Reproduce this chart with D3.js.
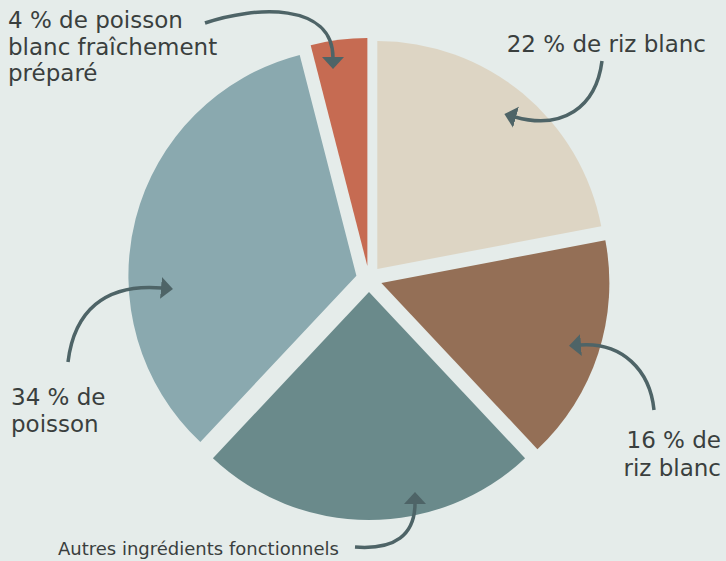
<!DOCTYPE html>
<html>
<head>
<meta charset="utf-8">
<script src="https://cdn.jsdelivr.net/npm/d3@7"></script>
<style>
  html, body { margin: 0; padding: 0; background: #e5ecea; }
  .lbl { font-family: "DejaVu Sans", sans-serif; fill: #3a3f3e; }
</style>
</head>
<body>
<div id="pie"></div>
<script>
// data, clockwise from 12 o'clock
const categories = ["riz blanc", "riz blanc", "Autres ingrédients fonctionnels", "poisson", "poisson blanc fraîchement préparé"];
const values = [22, 16, 24, 34, 4];
const colors = ["#ddd5c4", "#946f56", "#6a8a8b", "#8aa9af", "#c66b52"];

const width = 726, height = 561;
const cx = 369, cy = 279, radius = 228, explode = 13;

const svg = d3.select("#pie")
  .append("svg")
    .attr("width", width)
    .attr("height", height);

svg.append("rect")
  .attr("width", width)
  .attr("height", height)
  .attr("fill", "#e5ecea");

const pie = d3.pie().sort(null).value(d => d);
const arc = d3.arc().innerRadius(0).outerRadius(radius);

const g = svg.append("g").attr("transform", `translate(${cx},${cy})`);

// slices, each pushed out along its mid angle
g.selectAll("path.slice")
  .data(pie(values))
  .join("path")
    .attr("class", "slice")
    .attr("d", arc)
    .attr("fill", (d, i) => colors[i])
    .attr("transform", d => {
      const a = (d.startAngle + d.endAngle) / 2;
      return `translate(${explode * Math.sin(a)},${-explode * Math.cos(a)})`;
    });

// arrow head
svg.append("defs").append("marker")
    .attr("id", "head")
    .attr("markerUnits", "userSpaceOnUse")
    .attr("viewBox", "0 -12 14 24")
    .attr("refX", 1)
    .attr("refY", 0)
    .attr("markerWidth", 14)
    .attr("markerHeight", 24)
    .attr("orient", "auto")
  .append("path")
    .attr("d", "M0,-11L12,0L0,11Z")
    .attr("fill", "#4e6467");

const arrows = [
  "M205,23 C255,6 333,2 333,58",
  "M602,61 C596,108 562,130 515,117",
  "M68,362 C74,312 104,283 162,288",
  "M654,410 C650,370 622,342 580,345",
  "M355,547 C395,550 415,535 415,503"
];
svg.selectAll("path.arrow")
  .data(arrows)
  .join("path")
    .attr("class", "arrow")
    .attr("d", d => d)
    .attr("fill", "none")
    .attr("stroke", "#4e6467")
    .attr("stroke-width", 3.5)
    .attr("marker-end", "url(#head)");

// labels, one text per line
function label(lines, x, y, anchor, size, lh) {
  lines.forEach((s, i) => {
    svg.append("text")
      .attr("class", "lbl")
      .attr("x", x)
      .attr("y", y + i * lh)
      .attr("text-anchor", anchor)
      .style("font-size", size + "px")
      .text(s);
  });
}

label([`${values[4]} % de poisson`, "blanc fraîchement", "préparé"], 8, 28, "start", 23, 26.7);
label([`${values[0]} % de ${categories[0]}`], 706, 52, "end", 23, 27);
label([`${values[3]} % de`, categories[3]], 11, 405, "start", 23, 26.7);
label([`${values[1]} % de`, categories[1]], 721, 448, "end", 23, 28);
label([categories[2]], 58, 555, "start", 18, 20);
</script>
</body>
</html>
